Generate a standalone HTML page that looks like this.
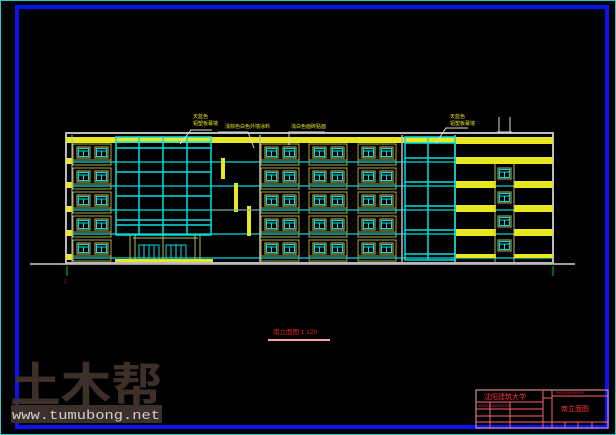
<!DOCTYPE html>
<html><head><meta charset="utf-8"><style>
html,body{margin:0;padding:0;background:#000;width:616px;height:435px;overflow:hidden}
svg{display:block}
</style></head><body>
<svg width="616" height="435" viewBox="0 0 616 435" xmlns="http://www.w3.org/2000/svg">
<defs>
<g id="w">
  <rect x="0" y="0" width="13" height="11" fill="none" stroke="#bdbd5a" stroke-width="1"/>
  <rect x="1.5" y="1.5" width="10" height="8" fill="none" stroke="#00e0e0" stroke-width="1"/>
  <line x1="1.5" y1="4" x2="11.5" y2="4" stroke="#00e0e0"/>
  <line x1="6.5" y1="4" x2="6.5" y2="9.5" stroke="#00e0e0"/>
</g>
<g id="pair">
  <rect x="-4" y="-3" width="38" height="21" fill="none" stroke="#a8a850" stroke-width="1"/>
  <use href="#w" x="0" y="0"/><use href="#w" x="18" y="0"/>
  <line x1="-4" y1="13" x2="34" y2="13" stroke="#a8a850"/>
</g>
</defs>
<rect width="616" height="435" fill="#000"/>
<rect x="0.5" y="0.5" width="615" height="434" fill="none" stroke="#30c8c8" stroke-width="1"/>
<rect x="17" y="7" width="590" height="420" fill="none" stroke="#0a14f0" stroke-width="4"/>

<line x1="30" y1="264" x2="575" y2="264" stroke="#d0d0d0" stroke-width="1.5"/>
<rect x="66" y="133" width="487" height="130" fill="none" stroke="#bbb" stroke-width="2"/>
<rect x="66" y="137" width="487" height="6" fill="#e8e820"/>
<g stroke="#00d8d8" stroke-width="1.2">
<line x1="66" y1="162" x2="553" y2="162"/><line x1="66" y1="186" x2="553" y2="186"/>
<line x1="66" y1="210" x2="553" y2="210"/><line x1="66" y1="234" x2="553" y2="234"/>
<line x1="66" y1="258" x2="553" y2="258"/>
</g>
<g fill="#e8e820"><rect x="66" y="158" width="6" height="6"/><rect x="66" y="182" width="6" height="6"/><rect x="66" y="206" width="6" height="6"/><rect x="66" y="230" width="6" height="6"/><rect x="66" y="254" width="6" height="6"/></g>
<line x1="72" y1="135" x2="72" y2="262" stroke="#bbb"/>
<line x1="260" y1="135" x2="260" y2="262" stroke="#bbb" stroke-width="1.5"/>
<line x1="402" y1="135" x2="402" y2="262" stroke="#bbb" stroke-width="1.5"/>
<line x1="455" y1="135" x2="455" y2="262" stroke="#bbb" stroke-width="1.5"/>

<g>
<use href="#pair" x="77" y="147"/><use href="#pair" x="77" y="171"/><use href="#pair" x="77" y="195"/><use href="#pair" x="77" y="219"/><use href="#pair" x="77" y="243"/>
</g>
<g>
<use href="#pair" x="265" y="147"/><use href="#pair" x="265" y="171"/><use href="#pair" x="265" y="195"/><use href="#pair" x="265" y="219"/><use href="#pair" x="265" y="243"/>
<use href="#pair" x="313" y="147"/><use href="#pair" x="313" y="171"/><use href="#pair" x="313" y="195"/><use href="#pair" x="313" y="219"/><use href="#pair" x="313" y="243"/>
<use href="#pair" x="362" y="147"/><use href="#pair" x="362" y="171"/><use href="#pair" x="362" y="195"/><use href="#pair" x="362" y="219"/><use href="#pair" x="362" y="243"/>
</g>

<g stroke="#00e0e0" stroke-width="1.5" fill="none">
<rect x="116" y="137" width="95" height="98"/>
<line x1="139" y1="137" x2="139" y2="235"/><line x1="163" y1="137" x2="163" y2="235"/><line x1="187" y1="137" x2="187" y2="235"/>
<line x1="116" y1="142" x2="211" y2="142"/><line x1="116" y1="148" x2="211" y2="148"/>
<line x1="116" y1="172" x2="211" y2="172"/><line x1="116" y1="196" x2="211" y2="196"/>
<line x1="116" y1="220" x2="211" y2="220"/><line x1="116" y1="225" x2="211" y2="225"/>
</g>
<g stroke="#bdbd5a" fill="none">
<line x1="130" y1="235" x2="130" y2="262"/><line x1="135" y1="235" x2="135" y2="262"/>
<line x1="163" y1="235" x2="163" y2="262"/><line x1="195" y1="235" x2="195" y2="262"/><line x1="200" y1="235" x2="200" y2="262"/>
<line x1="133" y1="238" x2="198" y2="238"/>
</g>
<g stroke="#00e0e0" fill="none"><rect x="139" y="245" width="20" height="16"/><rect x="166" y="245" width="20" height="16"/>
<line x1="144" y1="245" x2="144" y2="261"/><line x1="149" y1="245" x2="149" y2="261"/><line x1="154" y1="245" x2="154" y2="261"/>
<line x1="171" y1="245" x2="171" y2="261"/><line x1="176" y1="245" x2="176" y2="261"/><line x1="181" y1="245" x2="181" y2="261"/></g>
<rect x="115" y="259" width="98" height="3" fill="#e8e820"/>
<g fill="#e8e820"><rect x="221" y="158" width="4" height="21"/><rect x="234" y="183" width="4" height="29"/><rect x="247" y="206" width="4" height="30"/></g>
<line x1="211" y1="210" x2="260" y2="210" stroke="#999"/>

<g stroke="#00e0e0" stroke-width="1.5" fill="none">
<rect x="405" y="137" width="50" height="123"/>
<line x1="428" y1="137" x2="428" y2="260"/>
<line x1="405" y1="143" x2="455" y2="143"/><line x1="405" y1="158" x2="455" y2="158"/>
<line x1="405" y1="182" x2="455" y2="182"/><line x1="405" y1="206" x2="455" y2="206"/>
<line x1="405" y1="230" x2="455" y2="230"/><line x1="405" y1="254" x2="455" y2="254"/>
</g>

<g fill="#e8e820">
<rect x="456" y="139" width="97" height="5"/>
<rect x="456" y="157" width="97" height="7"/>
<rect x="456" y="181" width="40" height="7"/><rect x="514" y="181" width="39" height="7"/>
<rect x="456" y="205" width="40" height="7"/><rect x="514" y="205" width="39" height="7"/>
<rect x="456" y="229" width="40" height="7"/><rect x="514" y="229" width="39" height="7"/>
<rect x="456" y="254" width="40" height="4"/><rect x="514" y="254" width="39" height="4"/>
</g>
<g stroke="#bdbd5a" fill="none"><line x1="495" y1="163" x2="495" y2="262"/><line x1="514" y1="163" x2="514" y2="262"/></g>
<use href="#w" x="498" y="168"/><use href="#w" x="498" y="192"/><use href="#w" x="498" y="216"/><use href="#w" x="498" y="240"/>
<g stroke="#ddd" fill="none"><line x1="499" y1="117" x2="499" y2="132"/><line x1="510" y1="117" x2="510" y2="132"/><line x1="497" y1="132" x2="512" y2="132"/></g>

<g stroke="#ddd" fill="none" stroke-width="1">
<polyline points="180,144 191,130 212,130"/>
<polyline points="254,148 248,132 218,132"/>
<polyline points="289,145 289,132 325,132"/>
<polyline points="436,143 446,128 468,128"/>
</g>
<g font-family="Liberation Sans,'Noto Sans CJK SC',sans-serif" font-size="5" fill="#e8e820">
<text x="193" y="118">天蓝色</text><text x="193" y="125">铝塑板幕墙</text>
<text x="225" y="128">浅棕色白色外墙涂料</text>
<text x="291" y="128">浅白色面砖贴面</text>
<text x="450" y="118">天蓝色</text><text x="450" y="125">铝塑板幕墙</text>
</g>
<g stroke="#0c0" stroke-width="1"><line x1="67" y1="266" x2="67" y2="276"/><line x1="553" y1="266" x2="553" y2="276"/></g>
<text x="64" y="283" font-size="5" fill="#c00" font-family="Liberation Sans,sans-serif">1</text>

<text x="273" y="334" font-size="6.5" fill="#e02020" font-family="Liberation Sans,'Noto Sans CJK SC',sans-serif">南立面图 1:120</text>
<rect x="268" y="339" width="62" height="2" fill="#f4a0b0"/>

<g stroke="#ff6070" fill="none" stroke-width="1">
<rect x="476" y="390" width="132" height="38" stroke="#ffa0b0"/>
<line x1="476" y1="402" x2="543" y2="402"/><line x1="476" y1="409" x2="543" y2="409"/>
<line x1="476" y1="416" x2="543" y2="416"/><line x1="476" y1="422" x2="608" y2="422"/>
<line x1="543" y1="390" x2="543" y2="428"/><line x1="552" y1="390" x2="552" y2="428"/>
<line x1="552" y1="396" x2="608" y2="396"/><line x1="543" y1="398" x2="552" y2="398"/>
<line x1="490" y1="402" x2="490" y2="428"/><line x1="510" y1="402" x2="510" y2="428"/>
<line x1="565" y1="422" x2="565" y2="428"/><line x1="578" y1="422" x2="578" y2="428"/><line x1="592" y1="422" x2="592" y2="428"/>
</g>
<g font-family="Liberation Sans,'Noto Sans CJK SC',sans-serif" fill="#ff3040">
<text x="484" y="399" font-size="7">沈阳建筑大学</text>
<text x="478" y="407" font-size="4">XXXXXXXXXXXX</text>
<text x="556" y="394" font-size="3.5">XXXXXXXXXXXX</text>
<text x="561" y="411" font-size="7">南立面图</text>
</g>

<text x="10" y="402" font-size="47" font-weight="bold" fill="#3c3029" font-family="'Noto Sans CJK SC','WenQuanYi Zen Hei',sans-serif" textLength="152" lengthAdjust="spacingAndGlyphs">土木帮</text>
<rect x="11" y="405" width="151" height="18" fill="#3c3029"/>
<text x="12" y="419" font-size="13" fill="#d0d0d0" font-family="'Liberation Mono',monospace" textLength="148" lengthAdjust="spacingAndGlyphs">www.tumubong.net</text>
</svg>
</body></html>
